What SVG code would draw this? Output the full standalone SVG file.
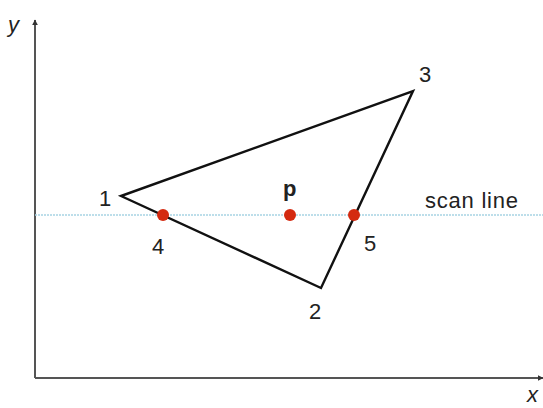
<svg xmlns="http://www.w3.org/2000/svg" width="543" height="408" viewBox="0 0 543 408">
<style>
text{font-family:"Liberation Sans",Arial,sans-serif;font-size:22px;fill:#222}
.axis{stroke:#555;stroke-width:2;fill:none}
.edge{stroke:#111;stroke-width:2.4;fill:none;stroke-linejoin:miter}
.pt{fill:#d42a10}
</style>
<defs>
<marker id="ah" viewBox="0 0 10 10" refX="9" refY="5" markerWidth="6" markerHeight="6" orient="auto" markerUnits="userSpaceOnUse">
<path d="M0,0 L10,5 L0,10 z" fill="#333"/>
</marker>
</defs>
<rect width="543" height="408" fill="#fff"/>
<g id="axes">
<line class="axis" x1="35" y1="378" x2="35" y2="20" marker-end="url(#ah)"/>
<line class="axis" x1="35" y1="378" x2="543" y2="378" marker-end="url(#ah)"/>
<text x="8" y="32" font-style="italic" font-size="21">y</text>
<text x="527" y="402" font-style="italic" font-size="18">x</text>
</g>
<g id="scanline">
<line x1="35" y1="215" x2="543" y2="215" stroke="#a8d4e4" stroke-width="1.6" stroke-dasharray="2 1"/>
<text x="425" y="208" font-size="22" textLength="93">scan line</text>
</g>
<g id="triangle">
<polygon class="edge" points="121,196 321,288 413,91"/>
</g>
<g id="labels">
<text x="99" y="206">1</text>
<text x="309" y="319">2</text>
<text x="419" y="82">3</text>
<text x="152" y="254">4</text>
<text x="364" y="251">5</text>
<text x="283" y="196" font-weight="bold">p</text>
</g>
<g id="points">
<circle class="pt" cx="163" cy="215" r="6"/>
<circle class="pt" cx="290" cy="215" r="6"/>
<circle class="pt" cx="354" cy="215" r="6"/>
</g>
</svg>
